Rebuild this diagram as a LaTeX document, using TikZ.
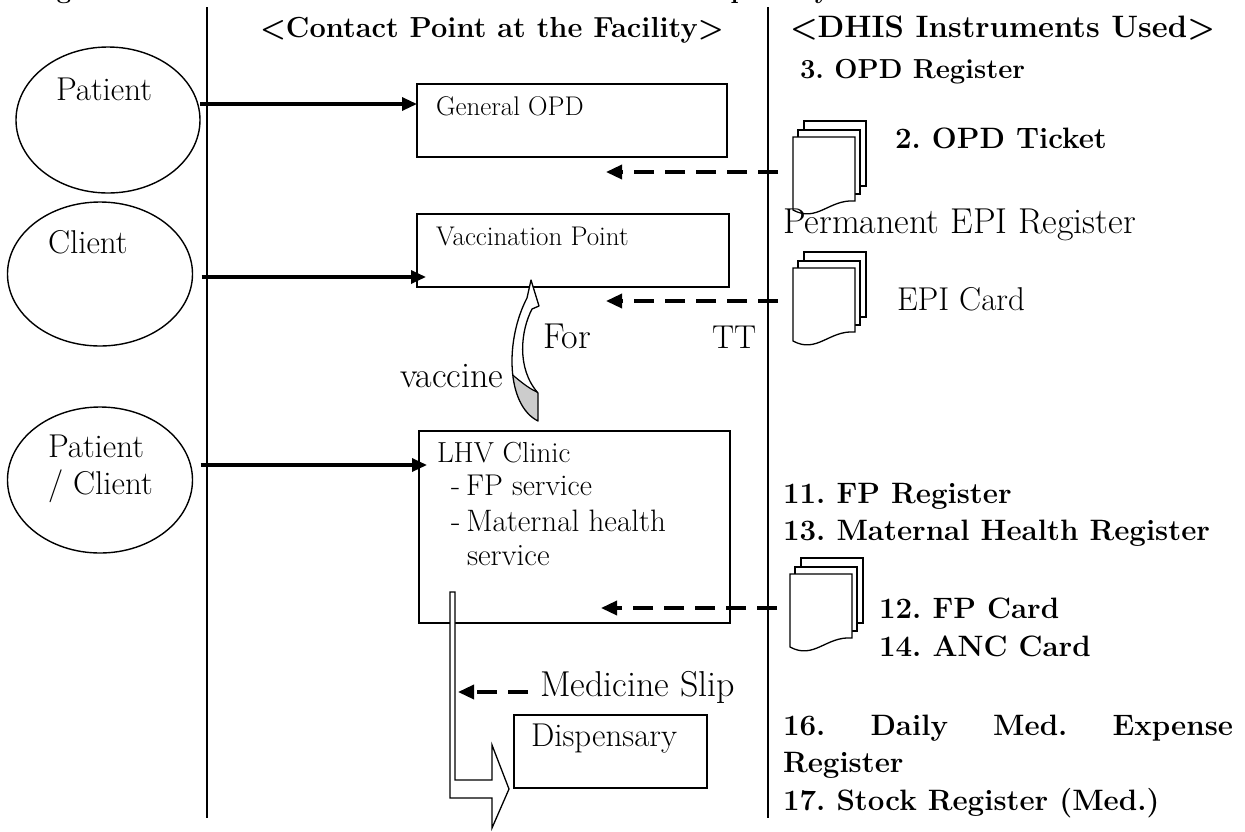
\documentclass[tikz,border=0pt]{standalone}
\usetikzlibrary{arrows.meta,shapes.geometric}
\frenchspacing
\begin{document}
\begin{tikzpicture}[x=1pt,y=-1pt,
  every node/.style={inner sep=0pt,outer sep=0pt},
  lane/.style={line width=1.6pt},
  party/.style={draw,ellipse,line width=1.4pt,minimum width=184pt,minimum height=146pt},
  box/.style={draw,line width=1.6pt,anchor=north west},
  boxtext/.style={anchor=base west,font=\fontsize{27}{31}\selectfont},
  who/.style={anchor=base west,font=\fontsize{33}{38}\selectfont},
  plain/.style={anchor=base west,font=\fontsize{36}{41}\selectfont},
  strong/.style={anchor=base west,font=\fontsize{29.5}{34}\selectfont\bfseries},
  header/.style={anchor=base west,font=\fontsize{29}{33}\selectfont\bfseries},
  flow/.style={line width=3.2pt,-{Triangle[length=15pt,width=13pt]}},
  paper/.style={line width=3.4pt,dash pattern=on 20pt off 11pt,-{Triangle[length=16pt,width=14pt]}},
  sheet/.style={draw,fill=white,line width=1.3pt},
  block/.style={draw,fill=white,line width=1.3pt,line join=miter},
]
\useasboundingbox (0,0) rectangle (1245,831);
\clip (0,0) rectangle (1245,831);

% caption line at the top edge
\node[anchor=base west,font=\fontsize{26}{30}\selectfont\bfseries] (caption) at (30,-2)
  {Figure 5: Flow and DHIS Instruments Used at the Dispensary};

% swim-lane separators
\coordinate (laneAtop) at (207,7);  \coordinate (laneAbot) at (207,818);
\coordinate (laneBtop) at (768,7);  \coordinate (laneBbot) at (768,818);
\draw[lane] (laneAtop) -- (laneAbot);
\draw[lane] (laneBtop) -- (laneBbot);

% column headings
\node[header] (hcontact) at (260,37) {\textless Contact Point at the Facility\textgreater};
\node[header,font=\fontsize{31}{35}\selectfont\bfseries] (hdhis) at (790,37) {\textless DHIS Instruments Used\textgreater};

% visitors
\node[party] (patient) at (108,120) {};
\node[party,minimum width=185pt,minimum height=144pt] (client) at (100,274) {};
\node[party,minimum width=185pt] (pc) at (100,480) {};
\node[who] (tpatient) at (56,100) {Patient};
\node[who] (tclient) at (48,253) {Client};
\node[who] (tpc1) at (48,457) {Patient};
\node[who] (tpc2) at (48,494) {/ Client};

% contact points
\node[box,minimum width=310pt,minimum height=73pt] (opd) at (417,84) {};
\node[box,minimum width=312pt,minimum height=73pt] (vac) at (417,214) {};
\node[box,minimum width=311pt,minimum height=192pt] (lhv) at (419,431) {};
\node[box,minimum width=193pt,minimum height=73pt] (disp) at (514,715) {};
\node[boxtext] (topd) at (436,115) {General OPD};
\node[boxtext] (tvac) at (436,245) {Vaccination Point};
\node[boxtext,font=\fontsize{29}{33}\selectfont] (tlhv) at (437,462) {LHV Clinic};
\node[boxtext,font=\fontsize{30}{34}\selectfont] (tlhv1) at (451,495) {-\hspace{6pt}FP service};
\node[boxtext,font=\fontsize{31}{35}\selectfont] (tlhv2) at (451,531) {-\hspace{6pt}Maternal health};
\node[boxtext,font=\fontsize{31}{35}\selectfont] (tlhv3) at (467,565) {service};
\node[who] (tdisp) at (531,746) {Dispensary};

% visitors entering
\draw[flow] ([yshift=16pt]patient.east) -- ([yshift=16pt]patient.east -| opd.west);
\draw[flow] ([xshift=9pt,yshift=-3pt]client.east) -- ([xshift=9pt,yshift=-3pt]client.east -| vac.west);
\draw[flow] ([xshift=8pt,yshift=15pt]pc.east) -- ([xshift=8pt,yshift=15pt]pc.east -| lhv.west);

% stacked documents
\newcommand\docstack[2]{%
  \begin{scope}[shift={(#1)}]
    \draw[sheet] (11,-16) rectangle (73,49);
    \draw[sheet] (5,-7) rectangle (67,57);
    \draw[sheet] (0,0) -- (62,0) -- (62,64)
      .. controls (36,62) and (24,86) .. (0,73) -- cycle;
  \end{scope}
  \coordinate (#2) at (#1);}
\docstack{793,137}{docopd}
\docstack{793,268}{docepi}
\docstack{790,574}{docfp}

% records handed to the contact points
\coordinate (opdsrc) at (778,172);  \coordinate (opdin) at (606,172);
\coordinate (vacsrc) at (778,301);  \coordinate (vacin) at (606,301);
\coordinate (lhvsrc) at (777,608);  \coordinate (lhvin) at (601,608);
\draw[paper] (opdsrc) -- (opdin);
\draw[paper] (vacsrc) -- (vacin);
\draw[paper] (lhvsrc) -- (lhvin);

% curved arrow from the clinic to the vaccination point
\def\vacpath{(531,280) -- (539,306) -- (532,309)
  .. controls (521,330) and (516,368) .. (538,393) -- (538,421)
  .. controls (506,405) and (505,340) .. (527,298) -- cycle}
\fill[white] \vacpath;
\begin{scope}
  \clip \vacpath;
  \fill[gray!40] (495,362) .. controls (512,372) and (524,388) .. (542,394)
    -- (542,430) -- (495,430) -- cycle;
  \draw[line width=1.2pt] (495,362) .. controls (512,372) and (524,388) .. (542,394);
\end{scope}
\draw[line width=1.3pt,line join=round] \vacpath;
\node[plain] (tfor) at (543,348) {For};
\node[plain,font=\fontsize{33}{38}\selectfont] (ttt) at (712,348) {TT};
\node[plain] (tvaccine) at (400,387) {vaccine};

% patient carries the slip from the clinic to the dispensary
\draw[block] (450,592) -- (455,592) -- (455,780) -- (492,780) -- (492,745)
  -- (509,789) -- (492,828) -- (492,798) -- (450,798) -- cycle;
\coordinate (slipsrc) at (528,692);  \coordinate (slipin) at (458,692);
\draw[paper] (slipsrc) -- (slipin);
\node[plain] (tslip) at (540,696) {Medicine Slip};

% instruments
\node[strong,font=\fontsize{27.5}{32}\selectfont\bfseries] (r3) at (800,78) {3. OPD Register};
\node[strong] (r2) at (895,148) {2. OPD Ticket};
\node[plain] (repi) at (783,233) {Permanent EPI Register};
\node[plain,font=\fontsize{33}{38}\selectfont] (cepi) at (897,310) {EPI Card};
\node[strong] (r11) at (783,503) {11. FP Register};
\node[strong] (r13) at (783,540) {13. Maternal Health Register};
\node[strong] (r12) at (879,618) {12. FP Card};
\node[strong] (r14) at (879,656) {14. ANC Card};
\node[strong] (r16) at (783,735) {\makebox[450pt][s]{16. Daily Med. Expense}};
\node[strong] (r16b) at (783,772) {Register};
\node[strong] (r17) at (783,810) {17. Stock Register (Med.)};
\end{tikzpicture}
\end{document}
